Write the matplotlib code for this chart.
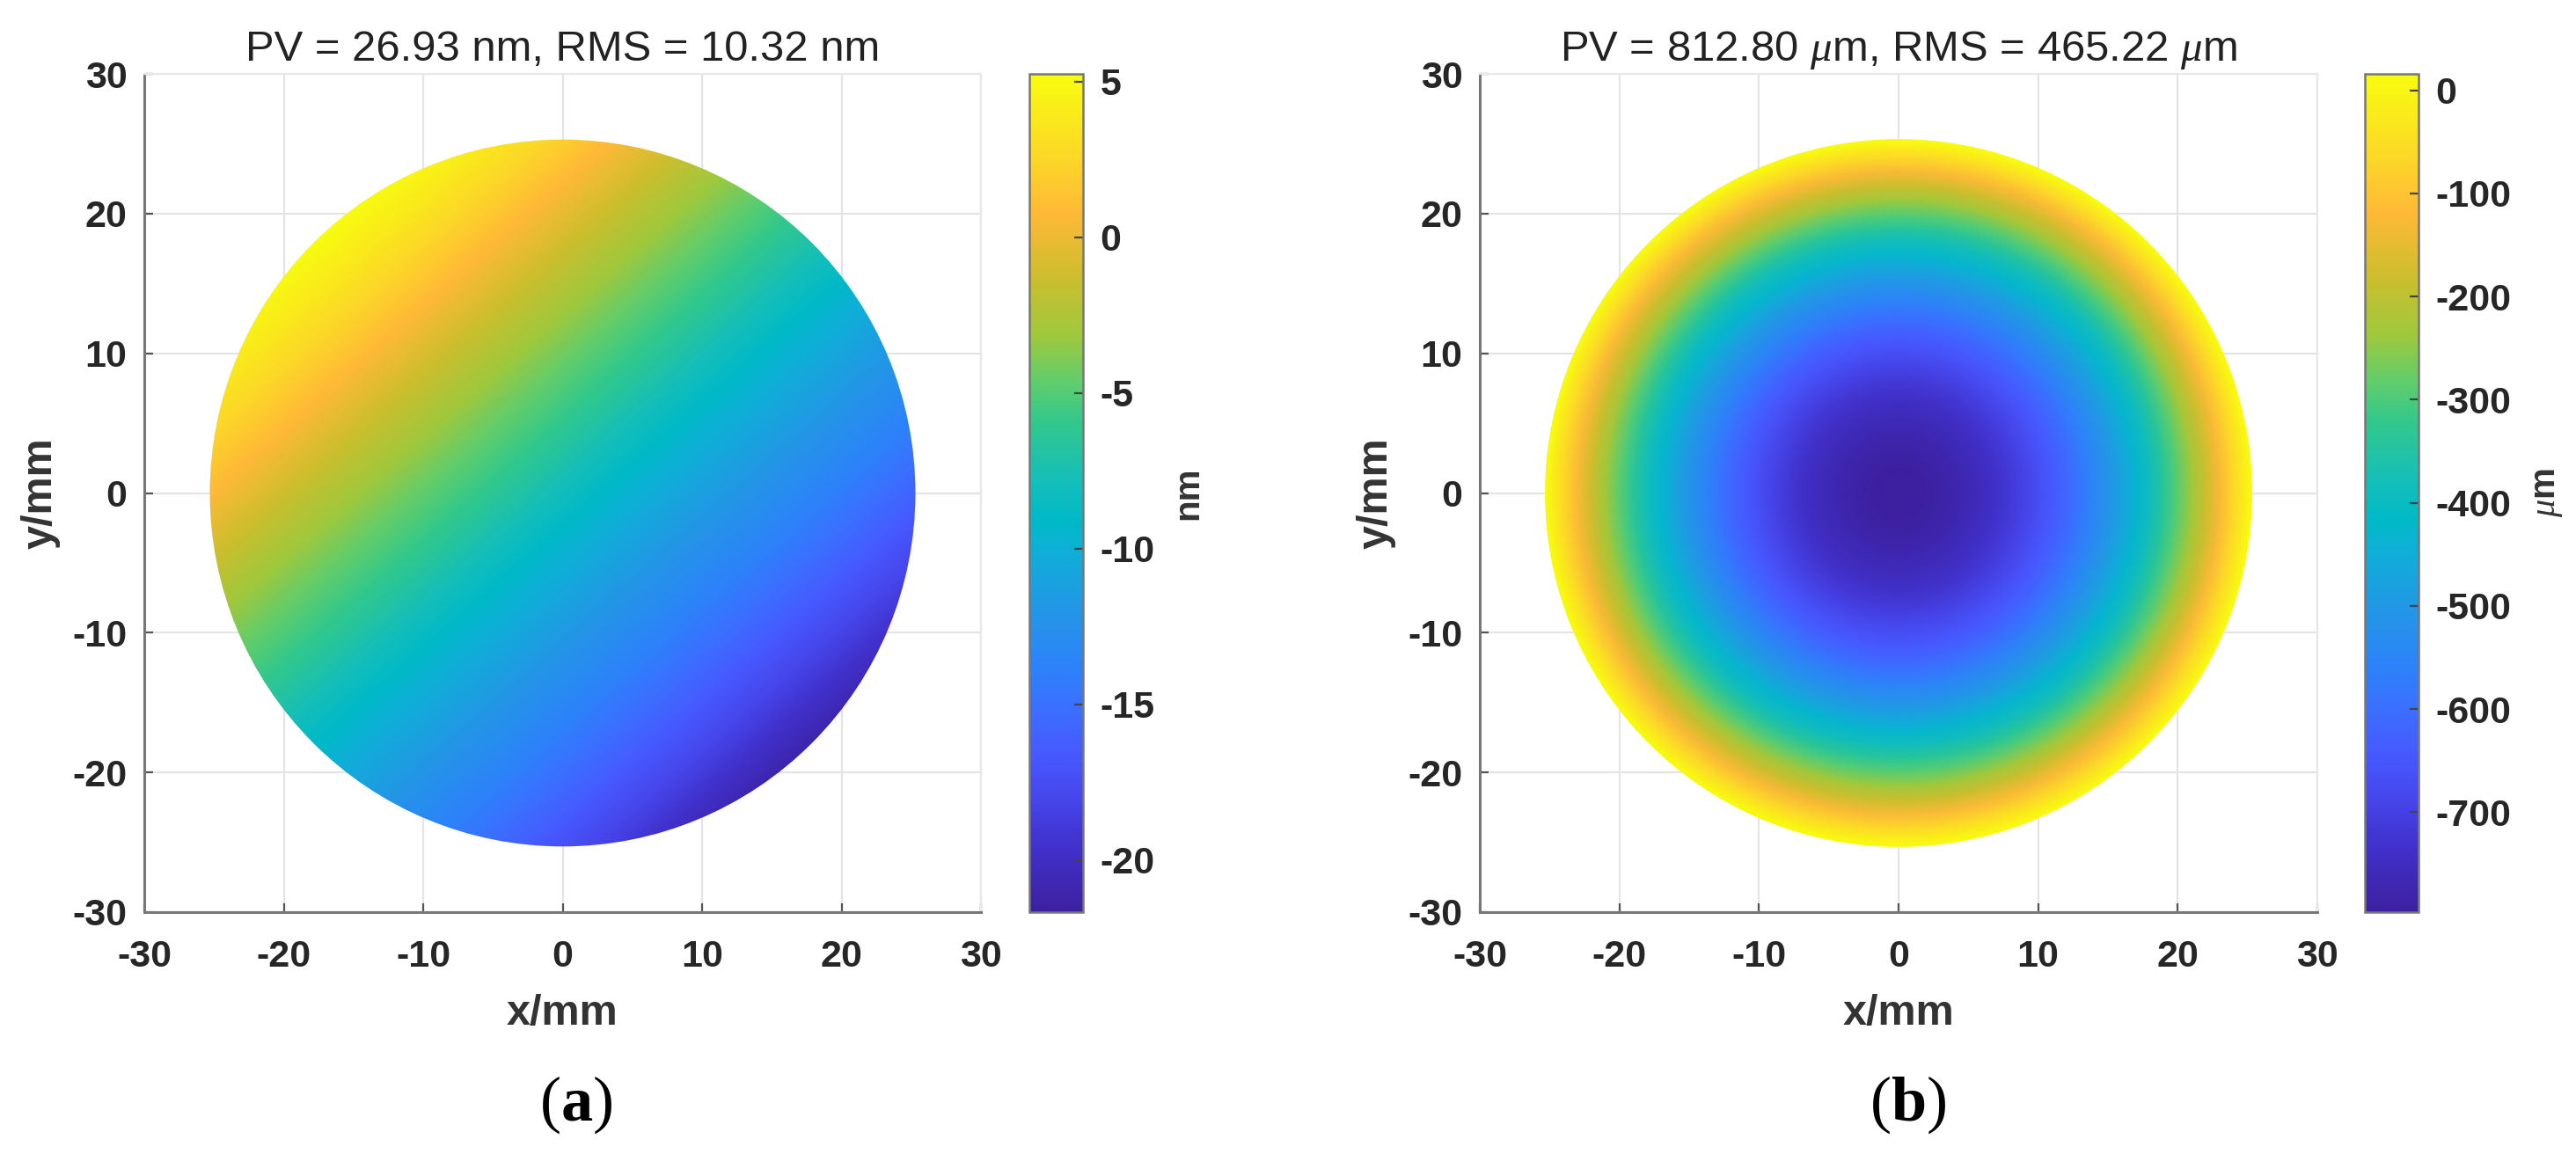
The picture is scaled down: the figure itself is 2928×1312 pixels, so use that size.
import numpy as np
import matplotlib
matplotlib.use("Agg")
from matplotlib import pyplot as plt
from matplotlib.colors import LinearSegmentedColormap
from matplotlib.patches import Circle

plt.rcParams["font.family"] = ["Liberation Sans", "DejaVu Sans"]
plt.rcParams["axes.unicode_minus"] = False
plt.rcParams["mathtext.fontset"] = "custom"
plt.rcParams["mathtext.it"] = "Liberation Serif:italic"
plt.rcParams["mathtext.bf"] = "Liberation Serif:bold"
plt.rcParams["mathtext.rm"] = "Liberation Serif"

W, H = 2928, 1312

# surface (a), nm on a 5 mm grid (top row is y = 30)
grid_mm = [-30, -25, -20, -15, -10, -5, 0, 5, 10, 15, 20, 25, 30]
surface_a = [
    [13.8, 12.2, 10.5, 8.8, 7.2, 5.5, 3.8, 2.2, 0.5, -1.6, -3.4, -4.9, -6.5],
    [11.9, 10.3, 8.6, 7.0, 5.3, 3.6, 2.0, 0.2, -1.8, -3.7, -5.1, -6.8, -8.9],
    [10.0, 8.4, 6.7, 5.0, 3.4, 1.7, -0.1, -2.1, -3.9, -5.3, -7.1, -9.1, -10.5],
    [8.2, 6.5, 4.8, 3.2, 1.5, -0.4, -2.3, -4.1, -5.5, -7.5, -9.3, -10.7, -12.0],
    [6.3, 4.6, 3.0, 1.3, -0.7, -2.6, -4.3, -5.7, -7.7, -9.5, -10.9, -12.2, -13.7],
    [4.4, 2.7, 1.1, -1.0, -2.8, -4.5, -5.9, -8.0, -9.7, -11.0, -12.4, -13.9, -15.5],
    [2.5, 0.8, -1.2, -3.1, -4.7, -6.1, -8.2, -9.9, -11.2, -12.6, -14.1, -15.8, -17.7],
    [0.5, -1.5, -3.4, -4.9, -6.4, -8.5, -10.1, -11.4, -12.9, -14.3, -16.0, -17.9, -19.9],
    [-1.7, -3.6, -5.1, -6.7, -8.8, -10.2, -11.6, -13.1, -14.6, -16.3, -18.2, -20.2, -22.3],
    [-3.9, -5.3, -7.0, -9.1, -10.4, -11.8, -13.3, -14.8, -16.5, -18.5, -20.5, -22.6, -24.8],
    [-5.4, -7.3, -9.2, -10.6, -12.0, -13.5, -15.0, -16.8, -18.7, -20.8, -22.9, -25.1, -27.3],
    [-7.6, -9.4, -10.8, -12.2, -13.7, -15.2, -17.1, -19.0, -21.1, -23.2, -25.4, -27.5, -29.7],
    [-9.6, -11.0, -12.4, -13.9, -15.7, -17.6, -19.2, -21.4, -23.5, -25.7, -27.9, -30.0, -32.1],
]
limits_a = [-21.68, 5.25]

# surface (b), um, profile along the radius (it is round)
radius_mm = [0, 1, 2, 3, 4, 5, 6, 7, 8, 9, 10, 11, 12, 13, 14, 15, 16, 17, 18,
             19, 20, 21, 22, 23, 24, 25, 25.3]
profile_b = [-797, -796, -792, -786, -777, -765, -751, -735, -716, -694, -670,
             -643, -614, -582, -548, -511, -472, -430, -386, -339, -289, -237,
             -182, -125, -65, -3, 15.8]
limits_b = [-797, 15.8]

axis_ticks = [-30, -20, -10, 0, 10, 20, 30]
cbar_ticks_a = [5, 0, -5, -10, -15, -20]
cbar_ticks_b = [0, -100, -200, -300, -400, -500, -600, -700]
title_a = "PV = 26.93 nm, RMS = 10.32 nm"
title_b = r"PV = 812.80 $\mu$m, RMS = 465.22 $\mu$m"

# colours sampled along the reference colorbar, bottom to top
cmap_pos = [0.0, 0.08, 0.133, 0.19, 0.24, 0.29, 0.36, 0.43, 0.466, 0.514, 0.585,
            0.637, 0.69, 0.76, 0.836, 0.90, 1.0]
cmap_rgb = [(60, 32, 160), (65, 50, 205), (70, 70, 235), (70, 90, 255), (60, 110, 255),
            (45, 130, 250), (35, 150, 230), (15, 175, 215), (0, 185, 200), (20, 190, 185),
            (50, 200, 140), (100, 205, 105), (160, 200, 60), (205, 190, 45), (255, 185, 55),
            (252, 215, 40), (248, 252, 15)]
parula = LinearSegmentedColormap.from_list(
    "parula", [(p, tuple(c / 255 for c in rgb)) for p, rgb in zip(cmap_pos, cmap_rgb)], N=256
)


def box(x0, y0, x1, y1):
    return [x0 / W, 1 - y1 / H, (x1 - x0) / W, (y1 - y0) / H]


def style_axes(ax, title):
    ax.set_xlim(-30, 30)
    ax.set_ylim(-30, 30)
    ax.set_aspect("auto")
    ax.set_xticks(axis_ticks)
    ax.set_yticks(axis_ticks)
    ax.set_axisbelow(True)
    ax.grid(True, color="#e4e4e4", lw=1.6)
    ax.tick_params(direction="in", length=7, width=1.6, color="#555555",
                   labelsize=31, labelcolor="#262626")
    ax.tick_params(axis="x", pad=22)
    ax.tick_params(axis="y", pad=14)
    for lab in ax.get_xticklabels() + ax.get_yticklabels():
        lab.set_fontweight("bold")
    for side in ["left", "bottom"]:
        ax.spines[side].set_color("#777777")
        ax.spines[side].set_linewidth(2.2)
    for side in ["top", "right"]:
        ax.spines[side].set_color("#e8e8e8")
        ax.spines[side].set_linewidth(1.6)
    ax.set_title(title, fontsize=35.3, color="#222222", pad=11)
    ax.set_xlabel("x/mm", fontsize=35, fontweight="bold", color="#333333")
    ax.set_ylabel("y/mm", fontsize=35, fontweight="bold", color="#333333")
    ax.xaxis.set_label_coords(0.5, -0.0976)
    ax.yaxis.set_label_coords(-0.1, 0.5)


def style_cbar(fig, mesh, pos, ticks, label, label_x):
    cax = fig.add_axes(box(*pos))
    cb = fig.colorbar(mesh, cax=cax)
    cb.set_ticks(ticks)
    cb.ax.tick_params(direction="in", length=7, width=1.6, color="#444444", pad=14,
                      labelsize=31, labelcolor="#262626")
    for lab in cb.ax.get_yticklabels():
        lab.set_fontweight("bold")
    cb.outline.set_edgecolor("#777777")
    cb.outline.set_linewidth(1.8)
    cb.set_label(label, fontsize=29, fontweight="bold", color="#333333", va="center")
    cb.ax.yaxis.set_label_coords(label_x, 0.5)
    return cb


fig = plt.figure(figsize=(W / 100, H / 100), dpi=100, facecolor="white")

# panel a
ax_a = fig.add_axes(box(164, 84, 1115, 1037))
half = (grid_mm[1] - grid_mm[0]) / 2
im = ax_a.imshow(
    np.array(surface_a),
    extent=[grid_mm[0] - half, grid_mm[-1] + half, grid_mm[0] - half, grid_mm[-1] + half],
    cmap=parula, vmin=limits_a[0], vmax=limits_a[1], interpolation="bicubic", zorder=2,
)
im.set_clip_path(Circle((0, 0), 25.3, transform=ax_a.transData))
style_axes(ax_a, title_a)
style_cbar(fig, im, (1170, 84, 1231, 1037), cbar_ticks_a, "nm", 2.95)

# panel b
ax_b = fig.add_axes(box(1682, 84, 2634, 1037))
theta = np.linspace(0, 2 * np.pi, 241)
rr, tt = np.meshgrid(radius_mm, theta)
zz = np.tile(profile_b, (len(theta), 1))
mesh = ax_b.pcolormesh(rr * np.cos(tt), rr * np.sin(tt), zz, shading="gouraud",
                       cmap=parula, vmin=limits_b[0], vmax=limits_b[1], zorder=2)
style_axes(ax_b, title_b)
style_cbar(fig, mesh, (2688, 84, 2749, 1037), cbar_ticks_b, r"$\mu$m", 3.41)

# captions
fig.text(655 / W, 1 - 1256 / H, r"($\mathbf{a}$)", fontsize=52, ha="center", va="center",
         family="Liberation Serif", color="black")
fig.text(2169 / W, 1 - 1256 / H, r"($\mathbf{b}$)", fontsize=52, ha="center", va="center",
         family="Liberation Serif", color="black")

fig.savefig("out.png", dpi=100)
